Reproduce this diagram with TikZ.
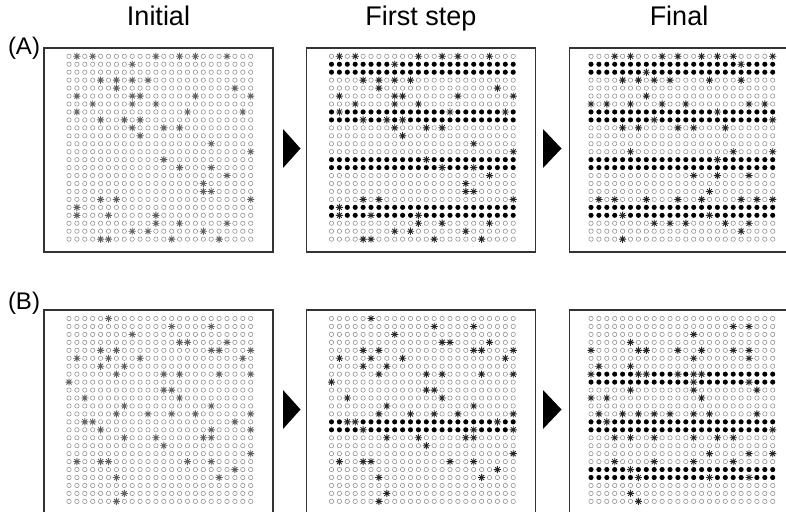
\documentclass[tikz,border=0pt]{standalone}
\usepackage{fontspec}
\setmainfont{Liberation Sans}

\tikzset{
  frame/.style={draw=black!80, line width=1.2pt},
  cell/.style={draw=black!45, line width=0.55pt},
  astline/.style={line width=0.9pt, line cap=round},
  title/.style={font=\fontsize{27}{31}\selectfont, anchor=base, inner sep=0pt},
  tag/.style={font=\fontsize{24}{28}\selectfont, anchor=base, inner sep=0pt},
  pointer/.style={fill=black},
}

% grid of 24 x 24 open sites; #1,#2 = centre of the top-left site
\newcommand\cellgrid[2]{%
  \foreach \r in {0,...,23}{\foreach \c in {0,...,23}{%
    \draw[cell] (#1+7.9*\c,#2+7.95*\r) circle[radius=2.2pt];}}}

% rows whose sites are all occupied (black dots)
\newcommand\fullrows[3]{%
  \foreach \r in {#3}{\foreach \c in {0,...,23}{%
    \fill (#1+7.9*\c,#2+7.95*\r) circle[radius=2.5pt];}}}

% asterisk sites; #4 is a macro holding row/column pairs
\newcommand\stars[4]{%
  \foreach \r/\c in #4{%
    \fill[white] (#1+7.9*\c,#2+7.95*\r) circle[radius=3.4pt];
    \draw[astline,#3] (#1+7.9*\c,#2+7.95*\r)
      +(0:3.3pt) -- +(180:3.3pt) +(45:3.3pt) -- +(225:3.3pt)
      +(90:3.3pt) -- +(270:3.3pt) +(135:3.3pt) -- +(315:3.3pt);}}

\newcommand\boxat[2]{\draw[frame] (#1,#2) rectangle (#1+229,#2+204);}

\def\starsA{0/1,0/3,0/11,0/14,0/16,0/20,1/8,3/4,3/6,3/8,3/10,4/6,4/21,%
5/1,5/8,5/9,5/16,5/23,6/3,6/8,6/11,7/1,7/15,7/22,8/4,8/7,8/9,9/8,9/12,9/14,%
10/9,11/18,12/23,13/12,14/14,14/18,15/20,16/17,17/17,17/18,18/4,18/6,18/23,%
19/1,20/1,20/5,20/11,21/11,21/14,21/20,22/8,22/10,22/17,23/4,23/5,23/13,23/19}

\def\starsAfinal{0/3,0/5,0/9,0/11,0/14,0/16,0/18,0/23,1/19,2/7,%
3/4,3/6,3/8,3/10,3/15,3/19,5/7,6/0,6/2,6/5,6/9,6/12,6/20,6/22,7/16,8/8,8/23,%
9/4,9/6,9/11,9/13,9/17,12/5,12/18,12/23,13/16,15/13,15/16,15/20,17/15,%
18/1,18/3,18/7,18/11,18/14,18/19,18/21,18/23,20/4,20/15,%
21/8,21/10,21/12,21/17,21/20,22/19,23/4}

\def\starsB{0/5,1/13,1/18,2/8,3/14,3/15,3/20,4/4,4/6,4/18,4/19,4/23,%
5/1,5/5,5/9,5/22,6/4,6/7,7/6,7/12,7/14,7/19,7/23,8/0,9/12,9/13,10/2,10/14,%
11/7,11/18,12/6,12/10,12/13,12/16,12/23,13/2,13/3,13/21,14/4,14/18,14/23,%
15/7,15/11,15/17,15/18,16/12,17/23,18/1,18/4,18/5,18/15,18/18,19/21,%
20/6,20/19,22/7,23/6}

\def\starsBfinal{1/18,1/20,2/13,3/5,4/0,4/6,4/7,4/11,4/14,4/18,4/20,%
5/13,5/20,6/1,6/5,7/0,7/6,7/7,7/11,7/13,7/14,8/13,8/20,9/5,9/13,9/21,%
10/0,10/2,10/14,12/1,12/4,12/6,12/8,12/10,12/13,12/15,12/21,13/2,14/23,%
15/3,15/5,15/8,15/13,15/16,15/18,17/15,17/20,17/23,18/3,18/8,18/13,18/18,%
19/5,20/6,20/15,20/20,22/5,23/6}

\begin{document}
\begin{tikzpicture}[x=1pt,y=-1pt]
  \useasboundingbox (0,0) rectangle (786,511);
  \clip (0,0) rectangle (786,511);

  % column titles and row tags
  \node[title] (tInit)  at (158.5,26) {Initial};
  \node[title] (tFirst) at (421,26)   {First step};
  \node[title] (tFinal) at (679,26)   {Final};
  \node[tag] (tagA) at (24,55)  {(A)};
  \node[tag] (tagB) at (24,309) {(B)};

  % ---- row (A) ----
  \boxat{44}{48}
  \cellgrid{69}{56.3}
  \stars{69}{56.3}{black!62}{\starsA}

  \boxat{306.5}{48}
  \cellgrid{331.5}{56.3}
  \fullrows{331.5}{56.3}{1,2,7,8,13,14,19,20}
  \stars{331.5}{56.3}{black!85}{\starsA}

  \boxat{569.5}{48}
  \cellgrid{591}{56.3}
  \fullrows{591}{56.3}{1,2,7,8,13,14,19,20}
  \stars{591}{56.3}{black!85}{\starsAfinal}

  % ---- row (B) ----
  \boxat{44}{310}
  \cellgrid{69}{318.5}
  \stars{69}{318.5}{black!62}{\starsB}

  \boxat{306.5}{310}
  \cellgrid{331.5}{318.5}
  \fullrows{331.5}{318.5}{13,14}
  \stars{331.5}{318.5}{black!85}{\starsB}

  \boxat{569.5}{310}
  \cellgrid{591}{318.5}
  \fullrows{591}{318.5}{7,8,13,14,19,20}
  \stars{591}{318.5}{black!85}{\starsBfinal}

  % step pointers between panels
  \fill[pointer] (283,129) -- (283,168) -- (300.5,148.5) -- cycle;
  \fill[pointer] (543,129) -- (543,168) -- (561.5,148.5) -- cycle;
  \fill[pointer] (283,390) -- (283,429) -- (300.5,409.5) -- cycle;
  \fill[pointer] (543,390) -- (543,429) -- (561.5,409.5) -- cycle;
\end{tikzpicture}
\end{document}
